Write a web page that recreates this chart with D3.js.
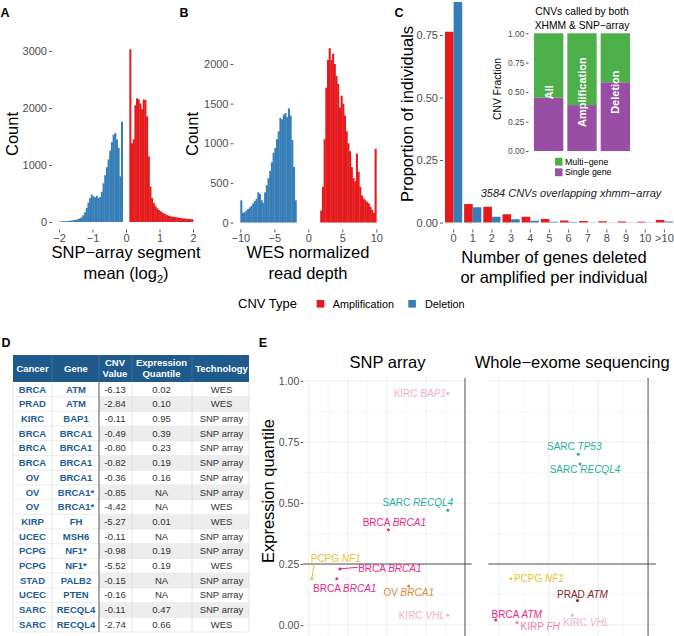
<!DOCTYPE html>
<html><head><meta charset="utf-8">
<script src="https://cdn.jsdelivr.net/npm/d3@7"></script>
<style>
body{margin:0;background:#fff}
svg{font-family:"Liberation Sans",Arial,Helvetica,sans-serif}
</style>
</head><body>
<svg id="c" width="674" height="636"></svg>
<script>
// ---------------- DATA ----------------
// Panel A: SNP-array segment mean histograms (bin width 0.05)
const snpBinWidth = 0.05;
const snpDelStart = -2.0;
const snpDelCounts = [8,10,12,14,16,18,22,26,30,36,42,52,65,85,120,170,250,340,420,480,450,430,460,420,440,530,680,820,960,1100,1250,1400,1530,1560,1450,1300,800,1760];
const snpAmpStart = 0.10;
const snpAmpCounts = [3030,1380,1450,2050,2170,2150,2080,1980,2150,2140,1850,1150,620,420,330,280,240,210,190,170,150,135,120,110,100,95,90,85,80,75,70,65,62,58,55,52,50,48];
const snpXTicks = [-2,-1,0,1,2];
const snpYTicks = [0,1000,2000,3000];

// Panel B: WES normalized read depth histograms (bin width 0.25)
const wesBinWidth = 0.25;
const wesDelStart = -10;
const wesDelCounts = [280,120,130,150,170,190,210,240,270,300,380,360,280,250,380,470,560,650,760,880,940,1050,1150,1320,1300,1360,1380,1330,1440,1350,1040,700,280];
const wesAmpStart = 1.75;
const wesAmpCounts = [150,450,1050,1700,2050,2200,2050,2130,2000,1850,1750,1450,1600,1500,1350,1150,1000,900,700,560,520,870,640,450,340,300,280,260,240,200,160,120,930];
const wesXTicks = [-10,-5,0,5,10];
const wesYTicks = [0,500,1000,1500,2000];

// Panel C: proportion of individuals by number of genes
const geneCats = ["0","1","2","3","4","5","6","7","8","9","10",">10"];
const propAmp = [0.763,0.074,0.063,0.033,0.023,0.014,0.008,0.006,0.005,0.004,0.003,0.010];
const propDel = [0.882,0.061,0.023,0.013,0.007,0.003,0.002,0.001,0.001,0.001,0.001,0.004];
const propTicks = [0,0.25,0.5,0.75];
const insetCats = ["All","Amplification","Deletion"];
const insetSingle = [0.453,0.390,0.584];
const insetMulti = [0.547,0.610,0.416];
const insetTicks = [0,0.25,0.5,0.75,1];
const cnvTypes = ["Amplification","Deletion"];

// Panel D: table
const tblHeaders = [["Cancer"],["Gene"],["CNV","Value"],["Expression","Quantile"],["Technology"]];
const tblCancer = ["BRCA","PRAD","KIRC","BRCA","BRCA","BRCA","OV","OV","OV","KIRP","UCEC","PCPG","PCPG","STAD","UCEC","SARC","SARC"];
const tblGene = ["ATM","ATM","BAP1","BRCA1","BRCA1","BRCA1","BRCA1","BRCA1*","BRCA1*","FH","MSH6","NF1*","NF1*","PALB2","PTEN","RECQL4","RECQL4"];
const tblCnv = ["-6.13","-2.84","-0.11","-0.49","-0.80","-0.82","-0.36","-0.85","-4.42","-5.27","-0.11","-0.98","-5.52","-0.15","-0.16","-0.11","-2.74"];
const tblQuant = ["0.02","0.10","0.95","0.39","0.23","0.19","0.16","NA","NA","0.01","NA","0.19","0.19","NA","NA","0.47","0.66"];
const tblTech = ["WES","WES","SNP array","SNP array","SNP array","SNP array","SNP array","SNP array","WES","WES","SNP array","SNP array","WES","SNP array","SNP array","SNP array","WES"];

// Panel E: expression quantile vs CNV value
const eTech = ["SNP array","SNP array","SNP array","SNP array","SNP array","SNP array","SNP array","SNP array",
               "WES","WES","WES","WES","WES","WES","WES"];
const eCancer = ["KIRC","SARC","BRCA","BRCA","BRCA","OV","PCPG","KIRC","SARC","SARC","PCPG","PRAD","BRCA","KIRP","KIRC"];
const eGene = ["BAP1","RECQL4","BRCA1","BRCA1","BRCA1","BRCA1","NF1","VHL","TP53","RECQL4","NF1","ATM","ATM","FH","VHL"];
const eCnv = [-0.11,-0.11,-0.49,-0.80,-0.82,-0.36,-0.98,-0.11,-2.81,-2.74,-5.52,-2.84,-6.13,-5.27,-3.05];
const eQuant = [0.95,0.47,0.39,0.23,0.19,0.16,0.19,0.04,0.70,0.66,0.19,0.10,0.02,0.01,0.04];
const eYTicks = [0,0.25,0.5,0.75,1];
const facetTitles = ["SNP array","Whole\u2212exome sequencing"];

// ---------------- LAYOUT / STYLE ----------------
const RED="#E41A1C", BLUE="#377EB8", GREEN="#4DAF4A", PURPLE="#984EA3";
const TICKTXT="#4D4D4D", TICKLINE="#333";
const cancerColor = {KIRC:"#F4B3C2",SARC:"#1FB09E",BRCA:"#E7298A",PCPG:"#E9C12B",OV:"#D88A39",PRAD:"#8B2020",KIRP:"#EE7FAE"};
// label offsets (px) relative to each point (repel layout)
const eLabelOffsets = [[-28,0],[-30,-8],[6,-7],[50,0],[8,10],[0,7],[24,-20],[-26,0],[-4,-7.5],[5,6],[28,0],[5,-6],[21,-6],[23,4],[14,7]];
// label connector segment ends (px) relative to the point, null = none
const eSegments = [null,null,null,[18,-1.6],null,null,[2.6,-15.3],null,null,null,null,null,null,null,null];

const svg = d3.select("#c");

function styleAxis(g, size){
  g.select(".domain").remove();
  g.selectAll(".tick line").attr("stroke",TICKLINE).attr("stroke-width",0.8);
  g.selectAll(".tick text").attr("fill",TICKTXT).attr("font-size",size);
}
function txt(x,y,s,opt={}){
  const t = svg.append("text").attr("x",x).attr("y",y).attr("dy","0.35em")
    .attr("text-anchor",opt.anchor||"middle").attr("font-size",opt.size||16.5)
    .attr("fill",opt.fill||"#000").text(s);
  if(opt.weight) t.attr("font-weight",opt.weight);
  if(opt.style) t.attr("font-style",opt.style);
  if(opt.rotate) t.attr("x",null).attr("y",null).attr("transform",`translate(${x},${y}) rotate(-90)`);
  return t;
}
function hist(x,y,start,w,counts,color){
  svg.append("g").selectAll("rect").data(counts).join("rect")
    .attr("x",(d,i)=>x(start+i*w))
    .attr("width",(d,i)=>x(start+(i+1)*w)-x(start+i*w)+0.35)
    .attr("y",d=>y(d)).attr("height",d=>y(0)-y(d)).attr("fill",color);
}

// ---------------- PANEL A ----------------
const xA = d3.scaleLinear().domain([-2,2]).range([59,193]);
const yA = d3.scaleLinear().domain([0,3000]).range([222,51]);
hist(xA,yA,snpDelStart,snpBinWidth,snpDelCounts,BLUE);
hist(xA,yA,snpAmpStart,snpBinWidth,snpAmpCounts,RED);
svg.append("g").attr("transform","translate(52,0)")
  .call(d3.axisLeft(yA).tickValues(snpYTicks).tickFormat(d3.format("d")).tickSize(3).tickPadding(2)).call(styleAxis,11);
svg.append("g").attr("transform","translate(0,229.5)")
  .call(d3.axisBottom(xA).tickValues(snpXTicks).tickFormat(d3.format("d")).tickSize(3).tickPadding(2)).call(styleAxis,11);
txt(12,134,"Count",{rotate:true});
txt(126,252,"SNP\u2212array segment");
{
  const t = svg.append("text").attr("x",126).attr("y",273).attr("dy","0.35em").attr("text-anchor","middle").attr("font-size",16.5);
  t.append("tspan").text("mean (log");
  t.append("tspan").attr("font-size",11).attr("dy","4").text("2");
  t.append("tspan").attr("dy","-4").text(")");
}
txt(5,13,"A",{weight:"bold",size:12.5});

// ---------------- PANEL B ----------------
const xB = d3.scaleLinear().domain([-10,10]).range([240.3,376.3]);
const yB = d3.scaleLinear().domain([0,2000]).range([222.5,64]);
hist(xB,yB,wesDelStart,wesBinWidth,wesDelCounts,BLUE);
hist(xB,yB,wesAmpStart,wesBinWidth,wesAmpCounts,RED);
svg.append("g").attr("transform","translate(233.5,0)")
  .call(d3.axisLeft(yB).tickValues(wesYTicks).tickFormat(d3.format("d")).tickSize(3).tickPadding(2)).call(styleAxis,11);
svg.append("g").attr("transform","translate(0,229.5)")
  .call(d3.axisBottom(xB).tickValues(wesXTicks).tickFormat(d3.format("d")).tickSize(3).tickPadding(2)).call(styleAxis,11);
txt(192,134,"Count",{rotate:true});
txt(308,252,"WES normalized");
txt(308,273,"read depth");
txt(184,13,"B",{weight:"bold",size:12.5});

// ---------------- PANEL C ----------------
const xC = d3.scaleBand().domain(geneCats).range([444,674]).paddingInner(0.1).paddingOuter(0.05);
const xCsub = d3.scaleBand().domain(cnvTypes).range([0,xC.bandwidth()]);
const yC = d3.scaleLinear().domain([0,1]).range([222.5,-27.5]);
const cSeries = [propAmp,propDel];
cnvTypes.forEach((t,k)=>{
  svg.append("g").selectAll("rect").data(cSeries[k]).join("rect")
    .attr("x",(d,i)=>xC(geneCats[i])+xCsub(t)).attr("width",xCsub.bandwidth())
    .attr("y",d=>yC(d)).attr("height",d=>yC(0)-yC(d)).attr("fill",k===0?RED:BLUE);
});
svg.append("g").attr("transform","translate(443,0)")
  .call(d3.axisLeft(yC).tickValues(propTicks).tickFormat(d3.format(".2f")).tickSize(3).tickPadding(2)).call(styleAxis,11);
svg.append("g").attr("transform","translate(0,229.5)")
  .call(d3.axisBottom(xC).tickSize(3).tickPadding(2)).call(styleAxis,11);
txt(407,114,"Proportion of individuals",{rotate:true});
txt(554,257,"Number of genes deleted");
txt(554,277,"or amplified per individual");
txt(571,193,"3584 CNVs overlapping xhmm\u2212array",{size:11,style:"italic",fill:"#222"});
txt(399,13,"C",{weight:"bold",size:12.5});

// inset
const xI = d3.scaleBand().domain(insetCats).range([532,632]).paddingInner(0.12).paddingOuter(0.06);
const yI = d3.scaleLinear().domain([0,1]).range([151,33.3]);
svg.append("g").selectAll("rect").data(insetSingle).join("rect")
  .attr("x",(d,i)=>xI(insetCats[i])).attr("width",xI.bandwidth())
  .attr("y",d=>yI(d)).attr("height",d=>yI(0)-yI(d)).attr("fill",PURPLE);
svg.append("g").selectAll("rect").data(insetMulti).join("rect")
  .attr("x",(d,i)=>xI(insetCats[i])).attr("width",xI.bandwidth())
  .attr("y",(d,i)=>yI(insetSingle[i]+d)).attr("height",d=>yI(0)-yI(d)).attr("fill",GREEN);
insetCats.forEach(c=>{
  txt(xI(c)+xI.bandwidth()/2, yI(0.5), c, {rotate:true,size:11,weight:"bold",fill:"#fff"});
});
svg.append("g").attr("transform","translate(528.5,0)")
  .call(d3.axisLeft(yI).tickValues(insetTicks).tickFormat(d3.format(".2f")).tickSize(2.5).tickPadding(1.5)).call(styleAxis,8.5);
txt(497,89,"CNV Fraction",{rotate:true,size:10.3});
txt(582,11.7,"CNVs called by both",{size:10.3});
txt(582,25,"XHMM & SNP\u2212array",{size:10.3});
svg.append("rect").attr("x",555).attr("y",157.8).attr("width",7.5).attr("height",7.8).attr("fill",GREEN);
svg.append("rect").attr("x",555).attr("y",168.4).attr("width",7.5).attr("height",7.8).attr("fill",PURPLE);
txt(565,161.7,"Multi\u2212gene",{anchor:"start",size:8.8});
txt(565,172.3,"Single gene",{anchor:"start",size:8.8});

// shared legend
txt(238,303,"CNV Type",{anchor:"start",size:13});
svg.append("rect").attr("x",316.7).attr("y",300).attr("width",7.6).attr("height",7.6).attr("fill",RED);
txt(332.7,304,cnvTypes[0],{anchor:"start",size:10.8});
svg.append("rect").attr("x",408.3).attr("y",300).attr("width",7.6).attr("height",7.6).attr("fill",BLUE);
txt(425,304,cnvTypes[1],{anchor:"start",size:10.8});

// ---------------- PANEL D (table) ----------------
txt(6,343,"D",{weight:"bold",size:12.5});
const colEdges=[13,52,99,132,192,249];
const colCenters=[32.5,76,115,161.5,221.5];
const hTop=355, hBot=382, rowH=14.7;
svg.append("rect").attr("x",13).attr("y",hTop).attr("width",236).attr("height",hBot-hTop).attr("fill","#1F5A8C");
[52,99,132,192].forEach(x=>svg.append("line").attr("x1",x).attr("x2",x).attr("y1",hTop).attr("y2",hBot).attr("stroke","#3F74A3").attr("stroke-width",0.8));
tblHeaders.forEach((h,j)=>{
  const cy=(hTop+hBot)/2;
  h.forEach((s,k)=>{
    const y = h.length===1?cy:cy+(k===0?-5.5:5.5);
    txt(colCenters[j],y,s,{size:9.5,weight:"bold",fill:"#fff"});
  });
});
const nRows = tblCancer.length;
for(let i=0;i<nRows;i++){
  const top=hBot+i*rowH;
  if(i%2===1) svg.append("rect").attr("x",99).attr("y",top).attr("width",150).attr("height",rowH).attr("fill","#EDEDED");
  svg.append("line").attr("x1",13).attr("x2",249).attr("y1",top+rowH).attr("y2",top+rowH).attr("stroke","#E4E4E4").attr("stroke-width",0.7);
  const cy=top+rowH/2;
  txt(colCenters[0],cy,tblCancer[i],{size:9.5,weight:"bold",fill:"#1E5C94"});
  txt(colCenters[1],cy,tblGene[i],{size:9.5,weight:"bold",fill:"#1E5C94"});
  txt(colCenters[2],cy,tblCnv[i],{size:9.5,fill:"#333"});
  txt(colCenters[3],cy,tblQuant[i],{size:9.5,fill:"#333"});
  txt(colCenters[4],cy,tblTech[i],{size:9.5,fill:"#333"});
}
const tBot=hBot+nRows*rowH;
[13,52,132,192,249].forEach(x=>svg.append("line").attr("x1",x).attr("x2",x).attr("y1",hBot).attr("y2",tBot).attr("stroke","#DDDDDD").attr("stroke-width",0.8));
svg.append("line").attr("x1",99).attr("x2",99).attr("y1",hBot).attr("y2",tBot).attr("stroke","#555").attr("stroke-width",1);

// ---------------- PANEL E ----------------
txt(263,343,"E",{weight:"bold",size:12.5});
const yE = d3.scaleLinear().domain([0,1]).range([625,381]);
const facets = [
  {tech:"SNP array", x:d3.scaleLinear().domain([-1.034,0.043]).range([303.3,471.7]), major:[-1,-0.75,-0.5,-0.25,0], minor:[-0.875,-0.625,-0.375,-0.125]},
  {tech:"WES", x:d3.scaleLinear().domain([-6.43,0.32]).range([488.3,656]), major:[-6,-4,-2,0], minor:[-5,-3,-1]}
];
const pTop=378, pBot=640;
facets.forEach((f,fi)=>{
  const [x0,x1]=f.x.range();
  const g=svg.append("g");
  const yMinor=[0.125,0.375,0.625,0.875];
  yMinor.forEach(v=>g.append("line").attr("x1",x0).attr("x2",x1).attr("y1",yE(v)).attr("y2",yE(v)).attr("stroke","#F2F2F2").attr("stroke-width",0.6));
  f.minor.forEach(v=>g.append("line").attr("x1",f.x(v)).attr("x2",f.x(v)).attr("y1",pTop).attr("y2",pBot).attr("stroke","#F2F2F2").attr("stroke-width",0.6));
  eYTicks.forEach(v=>g.append("line").attr("x1",x0).attr("x2",x1).attr("y1",yE(v)).attr("y2",yE(v)).attr("stroke","#E8E8E8").attr("stroke-width",0.8));
  f.major.forEach(v=>g.append("line").attr("x1",f.x(v)).attr("x2",f.x(v)).attr("y1",pTop).attr("y2",pBot).attr("stroke","#E8E8E8").attr("stroke-width",0.8));
  // reference lines
  g.append("line").attr("x1",f.x(0)).attr("x2",f.x(0)).attr("y1",pTop).attr("y2",pBot).attr("stroke","#444").attr("stroke-width",0.9);
  g.append("line").attr("x1",x0).attr("x2",x1).attr("y1",yE(0.25)).attr("y2",yE(0.25)).attr("stroke","#444").attr("stroke-width",0.9);
  txt((x0+x1)/2,362,facetTitles[fi],{size:16.5});
  // points + labels
  eTech.forEach((t,i)=>{
    if(t!==f.tech) return;
    const px=f.x(eCnv[i]), py=yE(eQuant[i]);
    const col=cancerColor[eCancer[i]];
    const [dx,dy]=eLabelOffsets[i];
    if(eSegments[i]){
      g.append("line").attr("x1",px).attr("y1",py).attr("x2",px+eSegments[i][0]).attr("y2",py+eSegments[i][1])
        .attr("stroke",col).attr("stroke-width",1);
    }
    g.append("circle").attr("cx",px).attr("cy",py).attr("r",1.5).attr("fill",col);
    const tt=g.append("text").attr("x",px+dx).attr("y",py+dy).attr("dy","0.35em").attr("text-anchor","middle")
      .attr("font-size",10).attr("fill",col);
    tt.append("tspan").text(eCancer[i]+" ");
    tt.append("tspan").attr("font-style","italic").text(eGene[i]);
  });
});
svg.append("g").attr("transform","translate(303.3,0)")
  .call(d3.axisLeft(yE).tickValues(eYTicks).tickFormat(d3.format(".2f")).tickSize(2.5).tickPadding(1.5)).call(styleAxis,10.5);
txt(268,491,"Expression quantile",{rotate:true});
</script>
</body></html>
